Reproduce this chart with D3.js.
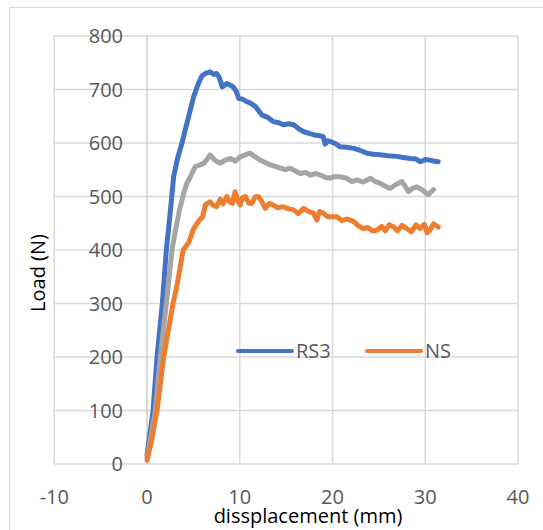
<!DOCTYPE html>
<html>
<head>
<meta charset="utf-8">
<script src="https://cdn.jsdelivr.net/npm/d3@7"></script>
<style>
  body { margin: 0; background: #fff; }
  text { font-family: "Open Sans", sans-serif; }
</style>
</head>
<body>
<svg width="543" height="530"></svg>
<script>
// values (displacement mm, load N)
const rs3X = [0, 0.65, 1.08, 1.65, 2.08, 2.5, 2.87, 3.3, 3.77, 4.2, 4.67, 5.0, 5.4, 5.9, 6.3, 6.8, 7.2, 7.5, 7.8, 8.1, 8.6, 9.0, 9.3, 9.6, 9.9, 10.3, 10.8, 11.2, 11.7, 12.4, 13.0, 13.6, 14.2, 14.7, 15.3, 15.8, 16.4, 16.9, 17.5, 18.0, 18.5, 19.0, 19.2, 19.5, 19.9, 20.4, 20.8, 21.5, 22.3, 23.0, 23.7, 24.4, 25.1, 26.0, 26.9, 27.6, 28.4, 29.0, 29.45, 30.0, 30.5, 31.0, 31.4];
const rs3Y = [17, 100, 200, 300, 400, 470, 537, 572, 600, 630, 662, 685, 705, 725, 730, 733, 728, 730, 722, 705, 711, 708, 705, 697, 683, 682, 677, 674, 668, 652, 648, 640, 638, 634, 636, 634, 626, 621, 618, 615, 614, 612, 598, 604, 602, 598, 593, 592, 590, 586, 581, 579, 578, 576, 575, 573, 571, 570, 565, 569, 568, 566, 565];

const grayX = [0, 0.4, 0.9, 1.43, 2.08, 2.69, 3.1, 3.5, 3.95, 4.3, 4.67, 5.2, 5.6, 6.1, 6.5, 6.8, 7.3, 7.9, 8.4, 9.0, 9.5, 10.05, 10.6, 11.1, 11.6, 12.2, 12.7, 13.3, 13.9, 14.4, 14.9, 15.4, 16.0, 16.5, 17.1, 17.6, 18.2, 18.7, 19.2, 19.75, 20.1, 20.8, 21.55, 22.1, 22.6, 23.3, 24.1, 24.6, 25.1, 25.6, 26.2, 26.8, 27.5, 28.2, 28.6, 29.1, 29.7, 30.3, 30.9];
const grayY = [12, 50, 100, 200, 300, 400, 440, 475, 506, 525, 537, 556, 558, 562, 570, 578, 568, 562, 568, 571, 566, 574, 578, 581, 575, 568, 564, 559, 556, 553, 550, 553, 548, 543, 545, 540, 543, 540, 536, 534, 537, 537, 534, 528, 531, 527, 534, 528, 525, 520, 515, 522, 528, 509, 515, 518, 512, 503, 513];

const nsX = [0, 0.5, 1.08, 1.79, 2.3, 2.8, 3.2, 3.9, 4.5, 5.0, 5.6, 6.0, 6.3, 6.8, 7.1, 7.5, 7.9, 8.2, 8.6, 8.9, 9.2, 9.5, 9.8, 10.05, 10.3, 10.6, 10.95, 11.3, 11.65, 12.0, 12.4, 12.75, 13.2, 13.6, 14.1, 14.7, 15.2, 15.8, 16.3, 16.9, 17.4, 17.95, 18.3, 18.6, 19.0, 19.5, 20.1, 20.5, 21.0, 21.6, 22.3, 22.8, 23.3, 23.8, 24.3, 24.8, 25.3, 25.7, 26.1, 26.6, 27.0, 27.5, 28.0, 28.5, 29.0, 29.45, 29.9, 30.2, 30.5, 30.9, 31.4];
const nsY = [7, 45, 100, 200, 250, 300, 331, 400, 414, 439, 455, 462, 485, 490, 484, 481, 495, 486, 500, 490, 487, 509, 492, 484, 498, 500, 488, 487, 499, 500, 490, 478, 487, 484, 479, 481, 477, 475, 468, 478, 472, 469, 456, 472, 469, 462, 462, 462, 455, 458, 453, 445, 440, 442, 436, 437, 444, 436, 447, 443, 436, 446, 440, 434, 447, 440, 448, 432, 437, 449, 443];

const xTicks = [-10, 0, 10, 20, 30, 40];
const yTicks = [0, 100, 200, 300, 400, 500, 600, 700, 800];

const series = [
  { name: "RS3", xs: rs3X, ys: rs3Y, color: "#4472C4", legend: true },
  { name: "gray", xs: grayX, ys: grayY, color: "#A5A5A5", legend: false },
  { name: "NS", xs: nsX, ys: nsY, color: "#ED7D31", legend: true }
];

const svg = d3.select("svg");

// outer chart frame (cropped at right/bottom)
svg.append("rect")
  .attr("x", 9.5).attr("y", 7.5)
  .attr("width", 560).attr("height", 560)
  .attr("fill", "#fff").attr("stroke", "#d9d9d9");

const x = d3.scaleLinear().domain([-10, 40]).range([54.3, 518]);
const y = d3.scaleLinear().domain([0, 800]).range([464, 36]);

// gridlines
svg.append("g")
  .selectAll("line")
  .data(yTicks)
  .enter()
  .append("line")
  .attr("x1", x(-10)).attr("x2", x(40))
  .attr("y1", d => y(d)).attr("y2", d => y(d))
  .attr("stroke", "#d9d9d9").attr("stroke-width", 1.5);

svg.append("g")
  .selectAll("line")
  .data(xTicks)
  .enter()
  .append("line")
  .attr("x1", d => x(d)).attr("x2", d => x(d))
  .attr("y1", y(0)).attr("y2", y(800))
  .attr("stroke", d => d === 0 ? "#cccccc" : "#d9d9d9").attr("stroke-width", 1.5);

// y tick labels sit left of the x=0 axis
svg.append("g")
  .selectAll("text")
  .data(yTicks)
  .enter()
  .append("text")
  .attr("x", x(0) - 24)
  .attr("y", d => y(d))
  .attr("dy", "0.36em")
  .attr("text-anchor", "end")
  .attr("font-size", 20)
  .attr("fill", "#595959")
  .text(d => d);

svg.append("g")
  .selectAll("text")
  .data(xTicks)
  .enter()
  .append("text")
  .attr("x", d => x(d))
  .attr("y", 504)
  .attr("text-anchor", "middle")
  .attr("font-size", 20)
  .attr("fill", "#595959")
  .text(d => d);

// lines
const line = d3.line().x(d => x(d[0])).y(d => y(d[1]));
svg.append("g")
  .selectAll("path")
  .data(series)
  .enter()
  .append("path")
  .attr("d", s => line(d3.zip(s.xs, s.ys)))
  .attr("fill", "none")
  .attr("stroke", s => s.color)
  .attr("stroke-width", 5)
  .attr("stroke-linejoin", "round")
  .attr("stroke-linecap", "round");

// legend
const legendItems = series.filter(s => s.legend);
const lg = svg.append("g")
  .selectAll("g")
  .data(legendItems)
  .enter()
  .append("g")
  .attr("transform", (d, i) => `translate(${238 + i * 129},351)`);
lg.append("line")
  .attr("x1", 0).attr("x2", 54)
  .attr("stroke", d => d.color)
  .attr("stroke-width", 4)
  .attr("stroke-linecap", "round");
lg.append("text")
  .attr("x", 58)
  .attr("dy", "0.36em")
  .attr("font-size", 20)
  .attr("fill", "#595959")
  .text(d => d.name);

// axis titles
svg.append("text")
  .attr("x", 308).attr("y", 523)
  .attr("text-anchor", "middle")
  .attr("font-size", 20)
  .attr("fill", "#000")
  .text("dissplacement (mm)");

svg.append("text")
  .attr("transform", `translate(45,273) rotate(-90)`)
  .attr("text-anchor", "middle")
  .attr("font-size", 20)
  .attr("fill", "#000")
  .text("Load (N)");
</script>
</body>
</html>
